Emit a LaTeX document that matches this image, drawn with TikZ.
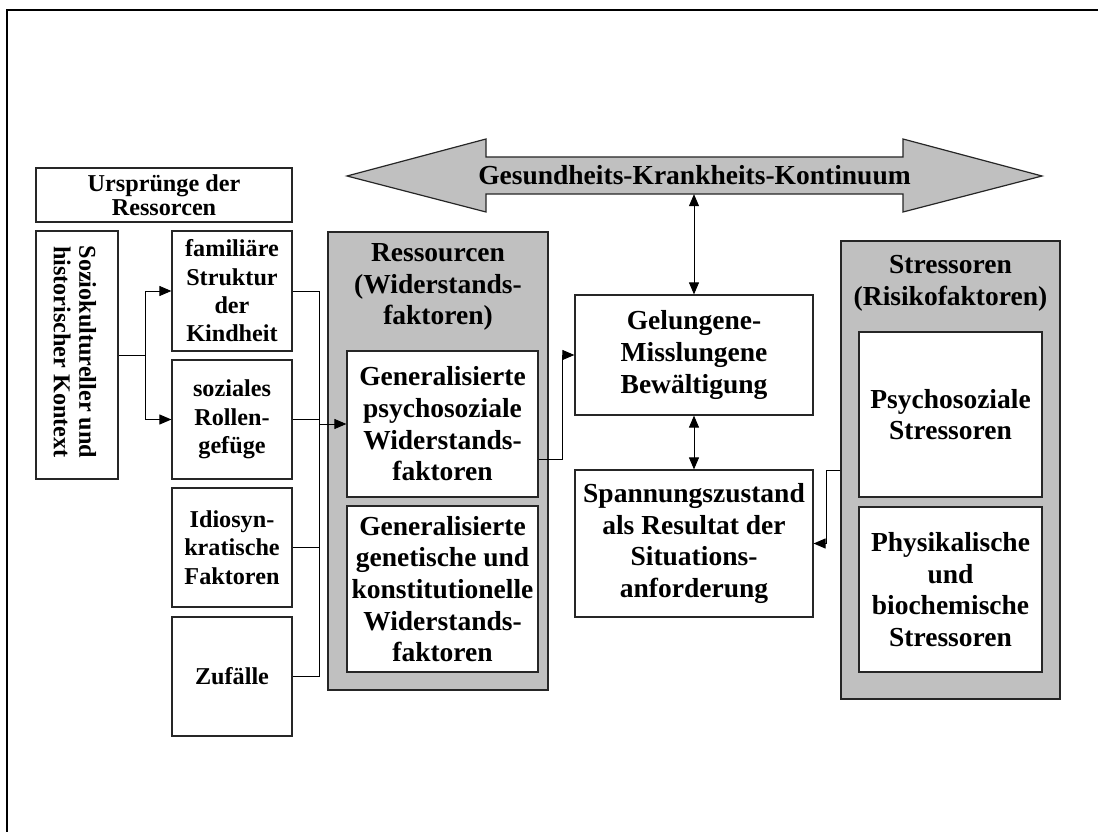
\documentclass[tikz,border=0pt]{standalone}
\usepackage{fontspec}
\setmainfont{Liberation Serif}
\usetikzlibrary{arrows.meta}
\definecolor{panelgray}{HTML}{C0C0C0}
\begin{document}
\begin{tikzpicture}[x=1pt,y=-1pt,
  bigfont/.style={font=\bfseries\fontsize{27.5}{31.7}\selectfont},
  smallfont/.style={font=\bfseries\fontsize{24.2}{28.3}\selectfont},
  tightfont/.style={font=\bfseries\fontsize{24.2}{24.5}\selectfont},
  vertfont/.style={font=\bfseries\fontsize{24.2}{25.5}\selectfont},
  box/.style={draw=black!85,line width=1.2pt,fill=white,rectangle,inner sep=0pt,align=center},
  panel/.style={draw=black!85,line width=1.2pt,fill=panelgray,rectangle,inner sep=0pt},
  wire/.style={line width=1pt,black},
  arr/.style={wire,-{Triangle[length=12pt,width=10pt]}},
  darr/.style={wire,{Triangle[length=12pt,width=10pt]}-{Triangle[length=12pt,width=10pt]}}
]
\useasboundingbox (0,0) rectangle (1098,832);

% page frame (top and left edges)
\draw[line width=2pt] (7,832) -- (7,10) -- (1098,10);

% continuum arrow
\draw[draw=black!85,line width=1.2pt,fill=panelgray]
  (347,176) -- (486,139) -- (486,157) -- (903,157) -- (903,139) -- (1042,176)
  -- (903,212) -- (903,194) -- (486,194) -- (486,212) -- cycle;
\node[bigfont,inner sep=0pt,minimum height=37pt,minimum width=420pt] (kont) at (694.5,175.5)
  {Gesundheits-Krankheits-Kontinuum};

% origins of resources
\node[box,tightfont,minimum width=256pt,minimum height=54pt] (urs) at (164,195)
  {Urspr\"unge der\\Ressorcen};
\node[box,minimum width=82pt,minimum height=248pt] (sozio) at (77,355) {};
\node[vertfont,rotate=-90,align=center,inner sep=0pt] (soziotext) at (75,352)
  {Soziokultureller und\\historischer Kontext};
\node[box,smallfont,minimum width=120pt,minimum height=120pt] (fam) at (232,291)
  {familiäre\\Struktur\\der\\Kindheit};
\node[box,smallfont,minimum width=120pt,minimum height=119pt] (soz) at (232,419.5)
  {soziales\\Rollen-\\gefüge};
\node[box,smallfont,minimum width=120pt,minimum height=119pt] (idio) at (232,547.5)
  {Idiosyn-\\kratische\\Faktoren};
\node[box,smallfont,minimum width=120pt,minimum height=119pt] (zuf) at (232,676.5)
  {Zufälle};

% resources panel
\node[panel,minimum width=220pt,minimum height=458pt] (ressbox) at (438,461) {};
\node[bigfont,align=center,inner sep=0pt] (resstitle) at (438,287)
  {Ressourcen\\(Widerstands-\\faktoren)};
\node[box,bigfont,minimum width=191pt,minimum height=146pt] (psych) at (442.5,424)
  {Generalisierte\\psychosoziale\\Widerstands-\\faktoren};
\node[box,bigfont,minimum width=191pt,minimum height=166pt] (gen) at (442.5,589)
  {Generalisierte\\genetische und\\konstitutionelle\\Widerstands-\\faktoren};

% coping and tension
\node[box,bigfont,minimum width=238pt,minimum height=120pt] (gel) at (694,355)
  {Gelungene-\\Misslungene\\Bewältigung};
\node[box,bigfont,minimum width=238pt,minimum height=147pt] (span) at (694,543.5)
  {Spannungszustand\\als Resultat der\\Situations-\\anforderung};

% stressors panel
\node[panel,minimum width=219pt,minimum height=458pt] (stressbox) at (950.5,470) {};
\node[bigfont,align=center,inner sep=0pt] (stresstitle) at (950.5,283)
  {Stressoren\\(Risikofaktoren)};
\node[box,bigfont,minimum width=183pt,minimum height=165pt] (psst) at (950.5,414.5)
  {Psychosoziale\\Stressoren};
\node[box,bigfont,minimum width=183pt,minimum height=165pt] (phys) at (950.5,589.5)
  {Physikalische\\und\\biochemische\\Stressoren};

% connectors
\draw[arr] (sozio.east) -- ++(27,0) coordinate (split) |- (fam.west);
\draw[arr] (split) |- (soz.west);

\coordinate (busx) at (319,0);
\draw[wire] (fam.east) -- (fam.east -| busx) -- (zuf.east -| busx) -- (zuf.east);
\draw[wire] (soz.east) -- (soz.east -| busx);
\draw[wire] (idio.east) -- (idio.east -| busx);
\draw[arr] (psych.west -| busx) -- (psych.west);

\draw[arr] ([yshift=-35pt]psych.east) -- ++(24,0) |- (gel.west);
\draw[darr] (kont.south -| gel.north) -- (gel.north);
\draw[darr] (gel.south) -- (span.north);
\draw[arr] (stressbox.west) -- ++(-14,0) |- (span.east);
\end{tikzpicture}
\end{document}
